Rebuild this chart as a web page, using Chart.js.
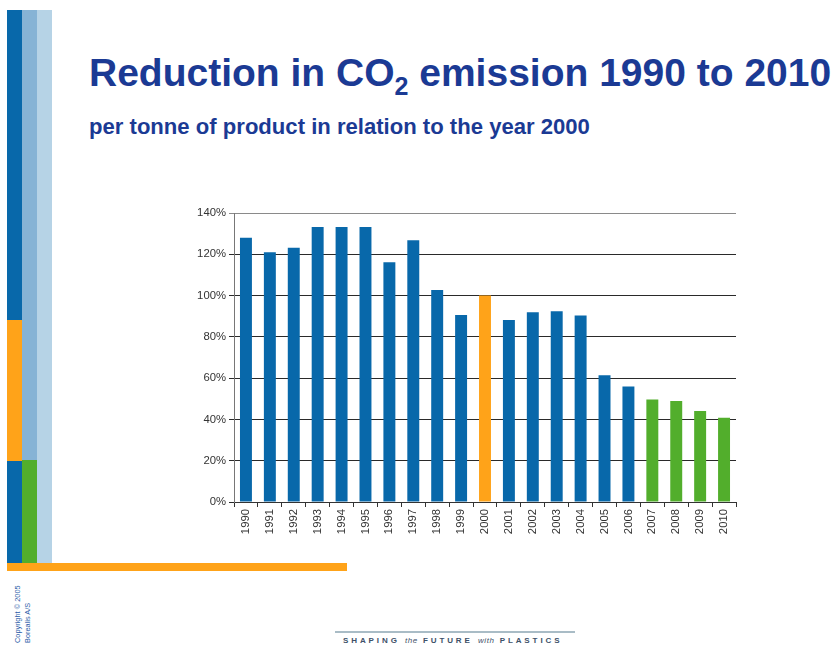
<!DOCTYPE html>
<html>
<head>
<meta charset="utf-8">
<script src="https://cdn.jsdelivr.net/npm/chart.js@4"></script>
<style>
  html, body { margin:0; padding:0; background:#fff; }
  #page { position:relative; width:838px; height:645px; overflow:hidden; font-family:"Liberation Sans", Arial, sans-serif; }
  .blk { position:absolute; }
  #title { position:absolute; left:89px; top:53px; font-weight:bold; font-size:39px; line-height:40px; color:#1b3a94; white-space:nowrap; }
  #title sub { font-size:25px; vertical-align:-9px; line-height:0; }
  #subtitle { position:absolute; left:89px; top:115px; font-weight:bold; font-size:22.1px; line-height:24px; color:#1b3a94; white-space:nowrap; }
  #copy { position:absolute; left:13px; top:643px; transform-origin:0 0; transform:rotate(-90deg); font-size:7.4px; line-height:9.5px; color:#2a5ca8; white-space:nowrap; }
  #footline { position:absolute; left:335px; top:631px; width:240px; height:2px; background:#a9bcc6; }
  #foot { position:absolute; left:343px; top:636px; font-size:8px; font-weight:bold; letter-spacing:2.9px; color:#3d5068; white-space:nowrap; }
  #foot i { font-weight:normal; letter-spacing:0.6px; }
  canvas { position:absolute; left:0; top:0; }
</style>
</head>
<body>
<div id="page">
  <div class="blk" style="left:7px;top:10px;width:15px;height:310px;background:#0868aa"></div>
  <div class="blk" style="left:7px;top:320px;width:15px;height:141px;background:#ffa319"></div>
  <div class="blk" style="left:7px;top:461px;width:15px;height:102px;background:#0868aa"></div>
  <div class="blk" style="left:22px;top:10px;width:15px;height:450px;background:#86b3d5"></div>
  <div class="blk" style="left:22px;top:460px;width:15px;height:103px;background:#52ae2c"></div>
  <div class="blk" style="left:37px;top:10px;width:15px;height:553px;background:#b6d3e6"></div>
  <div class="blk" style="left:7px;top:563px;width:340px;height:8px;background:#ffa319"></div>
  <div id="title">Reduction in CO<sub>2</sub> emission 1990 to 2010</div>
  <div id="subtitle">per tonne of product in relation to the year 2000</div>
  <div id="copy">Copyright © 2005<br>Borealis A/S</div>
  <div id="footline"></div>
  <div id="foot">SHAPING <i>the</i> FUTURE <i>with</i> PLASTICS</div>
  <canvas id="c" width="838" height="645"></canvas>
</div>
<script>
const years = ["1990","1991","1992","1993","1994","1995","1996","1997","1998","1999","2000","2001","2002","2003","2004","2005","2006","2007","2008","2009","2010"];
const emissionPct = [128, 121, 123.2, 133.2, 133.2, 133.2, 116.1, 126.8, 102.7, 90.6, 100, 88.2, 91.9, 92.4, 90.3, 61.4, 55.9, 49.7, 48.9, 44.1, 40.8];
const yTicks = [0, 20, 40, 60, 80, 100, 120, 140];
const baseYear = "2000";
const forecastFrom = "2007";

const BLUE = '#0868aa', ORANGE = '#ffa319', GREEN = '#52ae2c';
function barColor(ctx) {
  const y = years[ctx.dataIndex];
  if (y === baseYear) return ORANGE;
  if (y >= forecastFrom) return GREEN;
  return BLUE;
}

new Chart(document.getElementById('c'), {
  type: 'bar',
  data: {
    labels: years,
    datasets: [{
      data: emissionPct,
      backgroundColor: barColor,
      borderWidth: 0,
      barPercentage: 0.5,
      categoryPercentage: 1.0
    }]
  },
  options: {
    responsive: false,
    animation: false,
    events: [],
    layout: { padding: { left: 186, right: 102, top: 213, bottom: 103 } },
    plugins: { legend: { display: false }, tooltip: { enabled: false }, title: { display: false } },
    scales: {
      x: {
        offset: true,
        grid: { display: true, drawOnChartArea: false, drawTicks: true, tickLength: 5, color: '#333', offset: true },
        border: { display: true, color: '#333', width: 1 },
        ticks: { minRotation: 90, maxRotation: 90, autoSkip: false, padding: 2, color: '#333', font: { family: '"Liberation Sans", Arial, sans-serif', size: 11.3 } },
        afterFit: s => { s.height = 40; }
      },
      y: {
        min: 0, max: 140,
        afterBuildTicks: s => { s.ticks = yTicks.map(v => ({ value: v })); },
        grid: { drawTicks: true, tickLength: 5, color: c => (c.tick && c.tick.value === 140 ? '#8a8a8a' : '#2a2a2a'), lineWidth: 1 },
        border: { display: true, color: '#777', width: 1 },
        ticks: { padding: 3, color: '#333', font: { family: '"Liberation Sans", Arial, sans-serif', size: 11.3 }, callback: v => v + '%' },
        afterFit: s => { s.width = 48; }
      }
    }
  }
});
</script>
</body>
</html>
